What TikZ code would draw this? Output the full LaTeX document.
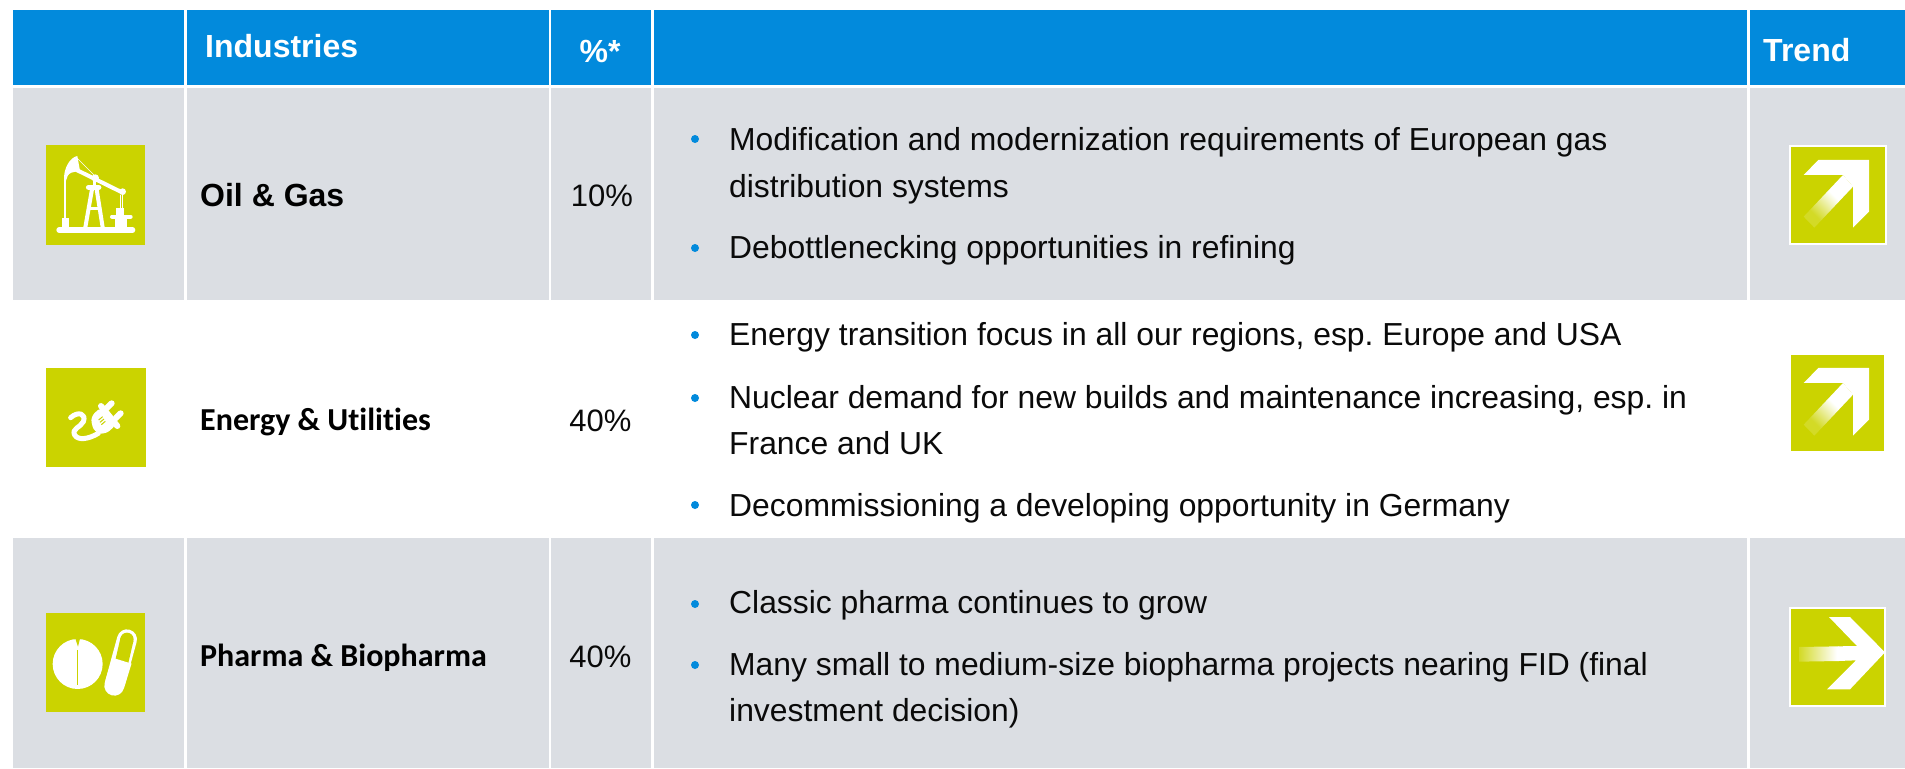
\documentclass[tikz,border=0pt]{standalone}
\usepackage{fontspec}
\setmainfont{Liberation Sans}
\newfontfamily\calibrif[Ligatures=CommonOff]{Carlito}
\frenchspacing
\definecolor{hdrblue}{HTML}{028ADC}
\definecolor{rowgrey}{HTML}{DBDEE3}
\definecolor{lime}{HTML}{CBD300}
\definecolor{inktext}{HTML}{0A0A0A}
\pgfdeclarehorizontalshading{limefade}{100bp}{color(0bp)=(lime!85!white); color(31bp)=(lime!85!white); color(58bp)=(white); color(100bp)=(white)}
\pgfdeclarehorizontalshading{limefadeh}{100bp}{color(0bp)=(lime!85!white); color(25bp)=(lime!85!white); color(72bp)=(white); color(100bp)=(white)}
\tikzset{
  hdr/.style={fill=hdrblue},
  greyrow/.style={fill=rowgrey},
  limebox/.style={fill=lime},
  framebox/.style={fill=lime,draw=white,line width=2pt},
  hdrtext/.style={anchor=base west,inner sep=0pt,text=white,font=\fontsize{32}{36}\selectfont\bfseries},
  body/.style={anchor=base west,inner sep=0pt,text=inktext,font=\fontsize{31.85}{36}\selectfont},
  pct/.style={anchor=base,inner sep=0pt,text=inktext,font=\fontsize{31}{36}\selectfont},
  ind/.style={anchor=base west,inner sep=0pt,text=black,font=\fontsize{32}{36}\selectfont\bfseries},
  indc/.style={anchor=base west,inner sep=0pt,text=black,font=\fontsize{32}{36}\selectfont\calibrif\bfseries},
  bull/.style={fill=hdrblue},
  glyph/.style={fill=white,draw=none},
  wline/.style={draw=white,line cap=round,line join=round},
  wbutt/.style={draw=white,line cap=butt},
  lbutt/.style={draw=lime,line cap=butt}
}
\begin{document}
\begin{tikzpicture}[x=1pt,y=-1pt]
\useasboundingbox (0,0) rectangle (1905,768);
\fill[white] (0,0) rectangle (1905,768);
% header cells
\foreach \a/\b in {13/184,187/548.5,551/651,654/1747,1750/1905}{
  \fill[hdr] (\a,10) rectangle (\b,85);
  \fill[greyrow] (\a,88) rectangle (\b,300);
  \fill[greyrow] (\a,538) rectangle (\b,768);
}
% header text
\node[hdrtext] (hInd) at (205,58) {Industries};
\node[hdrtext,anchor=base] (hPct) at (600,63) {\%*};
\node[hdrtext] (hTrend) at (1763,62) {Trend};
% industry names
\node[ind] (nOil) at (200,206) {Oil \& Gas};
\node[indc] (nEn) at (200,430) {Energy \& Utilities};
\node[indc] (nPh) at (200,666) {Pharma \& Biopharma};
% percent
\node[pct] (p1) at (602,206) {10\%};
\node[pct] (p2) at (600.5,431) {40\%};
\node[pct] (p3) at (600.5,667) {40\%};
% bullets
\foreach \y in {139,248,335,398,505,604,665}{
  \fill[bull] (695,\y) circle (4);
}
% body text
\node[body] (t1) at (729,150.5) {Modification and modernization requirements of European gas};
\node[body] (t2) at (729,197.5) {distribution systems};
\node[body] (t3) at (729,258) {Debottlenecking opportunities in refining};
\node[body] (t4) at (729,345) {Energy transition focus in all our regions, esp. Europe and USA};
\node[body] (t5) at (729,408) {Nuclear demand for new builds and maintenance increasing, esp. in};
\node[body] (t6) at (729,454) {France and UK};
\node[body] (t7) at (729,516) {Decommissioning a developing opportunity in Germany};
\node[body] (t8) at (729,613) {Classic pharma continues to grow};
\node[body] (t9) at (729,675) {Many small to medium-size biopharma projects nearing FID (final};
\node[body] (t10) at (729,721) {investment decision)};
% oil icon
\fill[limebox] (46,145) rectangle (145,245);
\begin{scope}[shift={(40,140)},x=0.3333pt,y=-0.3333pt]
  \draw[wline,line width=5.3pt] (57,270) -- (278,270);
  \fill[glyph] (65,233) rectangle (87,267);
  \draw[wline,line width=1.6pt] (75,118) -- (75,235);
  \fill[glyph] (72,122) .. controls (70,85) and (90,52) .. (112,48) -- (120,92) -- (94,98) .. controls (84,102) and (80,112) .. (78,122) -- cycle;
  \draw[wline,line width=4pt] (110,90) -- (246,157);
  \draw[wline,line width=.7pt] (112,55) -- (165,108);
  \fill[glyph] (166,114) circle (11);
  \draw[wline,line width=5.5pt] (146,142) -- (176,142);
  \draw[wline,line width=3pt] (163,120) -- (163,140);
  \fill[glyph] (248,155) circle (10);
  \draw[wline,line width=.7pt] (241,165) -- (241,205) (248,165) -- (248,205);
  \draw[wline,line width=4pt] (136,262) -- (156,148) (188,262) -- (170,148);
  \draw[wline,line width=3pt] (150,205) -- (176,205);
  \fill[glyph] (228,203) rectangle (252,228);
  \draw[wline,line width=4pt] (216,230) -- (272,230);
  \fill[glyph] (226,232) rectangle (260,267);
\end{scope}
% plug icon
\fill[limebox] (46,368) rectangle (146,467);
\begin{scope}[shift={(0,340)},x=0.3333pt,y=-0.3333pt]
  \draw[wline,line width=5pt] (212,233) .. controls (235,212) and (260,222) .. (250,245) .. controls (242,262) and (214,266) .. (224,285) .. controls (234,302) and (265,298) .. (295,280);
  \fill[glyph,rounded corners=2.5pt] (300,205) -- (345,258) -- (322,278) -- (298,282) -- (280,268) -- (273,240) -- (280,222) -- cycle;
  \draw[wline,line width=6pt] (303,198) -- (352,258);
  \draw[wline,line width=6pt] (320,205) -- (335,190);
  \draw[wline,line width=6pt] (347,235) -- (362,220);
  \draw[lime,line width=1pt] (296,240) -- (308,230) (300,247) -- (312,237) (304,254) -- (316,244);
\end{scope}
% pharma icon
\fill[limebox] (46,613) rectangle (145,712);
\begin{scope}[shift={(0,590)},x=0.3333pt,y=-0.3333pt]
  \fill[glyph] (233,222) circle (75);
  \fill[lime] (226,146) -- (240,146) -- (234,170) -- cycle;
  \draw[lime,line width=1pt] (234,180) -- (234,285);
  % capsule
  \draw[wline,line width=20pt] (381,148) -- (343,287);
  \draw[lbutt,line width=13.3pt] (365,217) -- (381,148);
  \fill[lime] (381,148) circle (20);
  \draw[wbutt,line width=20pt] (366,212) -- (345,280);
\end{scope}
% trend 1
\fill[framebox] (1790.3,146) rectangle (1885.7,244);
\begin{scope}[shift={(1705,0)},x=0.3333pt,y=-0.3333pt]
  \fill[glyph] (340,480) -- (492,480) -- (492,635) -- (444,683) -- (444,560) -- (414,525) -- (296,525) -- cycle;
  \shade[shading=limefade,shading angle=45] (296,650) -- (414,525) -- (444,560) -- (328,683) -- cycle;
\end{scope}
% trend 2
\fill[limebox] (1791.3,355) rectangle (1884.3,451);
\begin{scope}[shift={(1705,280)},x=0.3333pt,y=-0.3333pt]
  \fill[glyph] (340,264) -- (492,264) -- (492,419) -- (444,467) -- (444,344) -- (414,309) -- (296,309) -- cycle;
  \shade[shading=limefade,shading angle=45] (296,434) -- (414,309) -- (444,344) -- (328,467) -- cycle;
\end{scope}
% trend 3
\fill[framebox] (1790.3,608) rectangle (1885.3,706);
\begin{scope}[shift={(1705,590)},x=0.3333pt,y=-0.3333pt]
  \fill[glyph] (372,81) -- (435,81) -- (540,187) -- (435,298) -- (366,298) -- (453,211) -- (400,213) -- (400,169) -- (456,168) -- cycle;
  \shade[shading=limefadeh] (282,171) -- (402,169) -- (402,213) -- (282,215) -- cycle;
\end{scope}
\end{tikzpicture}
\end{document}
